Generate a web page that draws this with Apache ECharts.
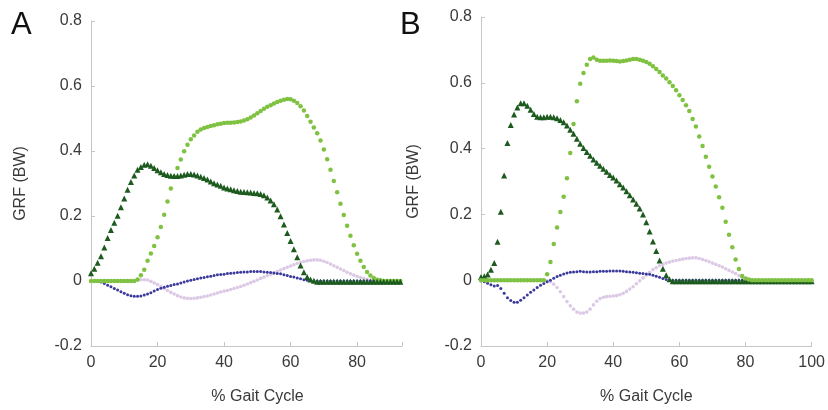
<!DOCTYPE html>
<html><head><meta charset="utf-8">
<script src="https://cdn.jsdelivr.net/npm/echarts@6/dist/echarts.min.js"></script>
<style>html,body{margin:0;padding:0;background:#fff}#c{width:828px;height:410px}</style>
</head><body><div id="c"></div>
<script>
// ---------- data ----------
const panelLabels = ['A', 'B'];
const yAxisName = 'GRF (BW)';
const xAxisName = '% Gait Cycle';
const yTickLabels = ['-0.2', '0', '0.2', '0.4', '0.6', '0.8'];
const xTickLabelsA = ['0', '20', '40', '60', '80'];
const xTickLabelsB = ['0', '20', '40', '60', '80', '100'];

const gaitA = [0,1,2,3,4,5,6,7,8,9,10,11,12,13,14,15,16,17,18,19,20,21,22,23,24,25,26,27,28,29,30,31,32,33,34,35,36,37,38,39,40,41,42,43,44,45,46,47,48,49,50,51,52,53,54,55,56,57,58,59,60,61,62,63,64,65,66,67,68,69,70,71,72,73,74,75,76,77,78,79,80,81,82,83,84,85,86,87,88,89,90,91,92,93];
const gaitB = [0,1,2,3,4,5,6,7,8,9,10,11,12,13,14,15,16,17,18,19,20,21,22,23,24,25,26,27,28,29,30,31,32,33,34,35,36,37,38,39,40,41,42,43,44,45,46,47,48,49,50,51,52,53,54,55,56,57,58,59,60,61,62,63,64,65,66,67,68,69,70,71,72,73,74,75,76,77,78,79,80,81,82,83,84,85,86,87,88,89,90,91,92,93,94,95,96,97,98,99,100];

const darkA = [0.024,0.038,0.056,0.076,0.103,0.132,0.157,0.179,0.201,0.227,
 0.254,0.281,0.305,0.325,0.342,0.351,0.358,0.359,0.355,0.348,
 0.341,0.335,0.329,0.326,0.324,0.323,0.323,0.325,0.327,0.329,
 0.329,0.328,0.325,0.321,0.317,0.312,0.306,0.301,0.297,0.293,
 0.288,0.285,0.282,0.279,0.277,0.275,0.274,0.273,0.272,0.271,
 0.27,0.268,0.264,0.257,0.248,0.236,0.22,0.199,0.174,0.148,
 0.123,0.098,0.073,0.048,0.027,0.012,0.005,0.001,-0.002,-0.002,
 -0.002,-0.002,-0.002,-0.002,-0.002,-0.002,-0.002,-0.002,-0.002,-0.002,
 -0.002,-0.002,-0.002,-0.002,-0.002,-0.002,-0.002,-0.002,-0.002,-0.002,
 -0.002,-0.002,-0.002,-0.002];
const lightA = [0,0,0,0,0,0,0,0,0,0,
 0,0,0,0,0.005,0.018,0.035,0.062,0.085,0.108,
 0.135,0.166,0.204,0.245,0.285,0.32,0.348,0.374,0.399,0.419,
 0.436,0.448,0.459,0.466,0.471,0.474,0.477,0.479,0.482,0.484,
 0.486,0.487,0.487,0.488,0.489,0.491,0.494,0.498,0.503,0.509,
 0.516,0.523,0.53,0.536,0.541,0.546,0.551,0.555,0.558,0.56,
 0.559,0.555,0.548,0.538,0.525,0.508,0.49,0.472,0.455,0.432,
 0.405,0.375,0.342,0.308,0.273,0.238,0.203,0.17,0.139,0.11,
 0.084,0.062,0.043,0.028,0.017,0.009,0.004,0.002,0,0,
 0,0,0,0];
const blueA = [0,0,-0.001,-0.003,-0.008,-0.013,-0.018,-0.023,-0.028,-0.033,
 -0.038,-0.042,-0.045,-0.047,-0.047,-0.046,-0.043,-0.04,-0.036,-0.031,
 -0.026,-0.022,-0.019,-0.016,-0.014,-0.011,-0.009,-0.006,-0.003,0,
 0.002,0.005,0.007,0.009,0.011,0.013,0.015,0.017,0.019,0.02,
 0.021,0.023,0.024,0.025,0.026,0.027,0.028,0.028,0.029,0.029,
 0.029,0.029,0.028,0.027,0.026,0.025,0.023,0.022,0.019,0.017,
 0.014,0.012,0.009,0.007,0.004,0.002,0.001,0,0,0,
 0,0,0,0,0,0,0,0,0,0,
 0,0,0,0,0,0,0,0,0,0,
 0,0,0,0];
const pinkA = [0,0,0,0,0,0,0,0,0,0,
 0,0,0,0,0.002,0.004,0.004,0.003,-0.001,-0.006,
 -0.011,-0.017,-0.023,-0.029,-0.035,-0.04,-0.045,-0.049,-0.052,-0.053,
 -0.054,-0.053,-0.052,-0.05,-0.048,-0.046,-0.043,-0.04,-0.037,-0.034,
 -0.031,-0.029,-0.026,-0.023,-0.02,-0.017,-0.013,-0.009,-0.005,-0.001,
 0.003,0.008,0.012,0.016,0.021,0.025,0.03,0.034,0.038,0.042,
 0.046,0.05,0.054,0.057,0.06,0.062,0.064,0.065,0.065,0.064,
 0.061,0.057,0.052,0.047,0.042,0.037,0.032,0.027,0.022,0.018,
 0.014,0.011,0.008,0.005,0.003,0.002,0.001,0,0,0,
 0,0,0,0];

const darkB = [0.01,0.012,0.017,0.032,0.052,0.117,0.208,0.318,0.417,0.472,
 0.504,0.525,0.538,0.538,0.53,0.518,0.505,0.497,0.495,0.495,
 0.497,0.497,0.495,0.492,0.487,0.48,0.47,0.457,0.445,0.43,
 0.415,0.402,0.39,0.378,0.367,0.357,0.348,0.339,0.33,0.32,
 0.312,0.303,0.292,0.282,0.27,0.258,0.245,0.232,0.218,0.2,
 0.176,0.148,0.118,0.089,0.06,0.035,0.015,0.003,-0.003,-0.003,
 -0.003,-0.003,-0.003,-0.003,-0.003,-0.003,-0.003,-0.003,-0.003,-0.003,
 -0.003,-0.003,-0.003,-0.003,-0.003,-0.003,-0.003,-0.003,-0.003,-0.003,
 -0.003,-0.003,-0.003,-0.003,-0.003,-0.003,-0.003,-0.003,-0.003,-0.003,
 -0.003,-0.003,-0.003,-0.003,-0.003,-0.003,-0.003,-0.003,-0.003,-0.003,
 -0.003];
const lightB = [0,0,0,0,0,0,0,0,0,0,
 0,0,0,0,0,0,0,0,0,0,
 0.018,0.055,0.11,0.16,0.207,0.254,0.31,0.387,0.475,0.544,
 0.597,0.63,0.655,0.672,0.677,0.67,0.667,0.667,0.667,0.668,
 0.667,0.666,0.665,0.666,0.668,0.67,0.672,0.672,0.67,0.667,
 0.663,0.658,0.65,0.642,0.633,0.622,0.613,0.602,0.59,0.577,
 0.562,0.548,0.532,0.514,0.49,0.467,0.437,0.408,0.375,0.345,
 0.315,0.285,0.252,0.22,0.178,0.138,0.1,0.063,0.034,0.013,
 0.005,0.002,0,0,0,0,0,0,0,0,
 0,0,0,0,0,0,0,0,0,0,
 0];
const blueB = [-0.002,-0.005,-0.009,-0.014,-0.018,-0.016,-0.025,-0.04,-0.053,-0.062,
 -0.067,-0.067,-0.061,-0.053,-0.045,-0.037,-0.03,-0.022,-0.015,-0.01,
 -0.005,0,0.006,0.011,0.015,0.019,0.022,0.024,0.025,0.026,
 0.027,0.026,0.025,0.025,0.026,0.026,0.027,0.027,0.027,0.028,
 0.028,0.028,0.028,0.027,0.026,0.025,0.024,0.023,0.021,0.02,
 0.019,0.018,0.015,0.012,0.009,0.005,0.002,0,0,0,
 0,0,0,0,0,0,0,0,0,0,
 0,0,0,0,0,0,0,0,0,0,
 0,0,0,0,0,0,0,0,0,0,
 0,0,0,0,0,0,0,0,0,0,
 0];
const pinkB = [0,0,0,0,0,0,0,0,0,0,
 0,0,0,0,0,0,0,0,0,0,
 -0.002,-0.005,-0.012,-0.022,-0.035,-0.05,-0.065,-0.078,-0.088,-0.097,
 -0.1,-0.1,-0.097,-0.088,-0.075,-0.064,-0.056,-0.052,-0.05,-0.049,
 -0.048,-0.047,-0.044,-0.04,-0.034,-0.027,-0.02,-0.011,-0.002,0.007,
 0.016,0.024,0.032,0.038,0.044,0.048,0.052,0.055,0.058,0.06,
 0.062,0.064,0.066,0.067,0.068,0.068,0.066,0.063,0.06,0.056,
 0.052,0.048,0.044,0.04,0.035,0.03,0.025,0.02,0.014,0.009,
 0.004,0.001,0,0,0,0,0,0,0,0,
 0,0,0,0,0,0,0,0,0,0,
 0];

// ---------- chart ----------
const FONT = 'Liberation Sans, Arial, sans-serif';
const TXT = '#3a3a3a';
const AX = '#c6c6c6';
const STY = {
  light: {color: '#7fc241', symbol: 'circle', size: 4.5},
  dark:  {color: '#1c5a1e', symbol: 'triangle', size: 6},
  blue:  {color: '#3a3a9c', symbol: 'circle', size: 3},
  pink:  {color: '#dcc9e6', symbol: 'circle', size: 3.6}
};
function pts(xs, ys) { return xs.map((x, i) => [x, ys[i]]); }
function ser(idx, key, xs, ys, z) {
  const s = STY[key];
  return {type: 'scatter', xAxisIndex: idx, yAxisIndex: idx, data: pts(xs, ys),
    symbol: s.symbol, symbolSize: s.size, itemStyle: {color: s.color, opacity: 1},
    z: z, silent: true, animation: false};
}
function yLab(v) {
  const s = (Math.round(v * 10) / 10).toFixed(1);
  const found = yTickLabels.find(t => Math.abs(parseFloat(t) - v) < 1e-6);
  return found !== undefined ? found : s;
}
function xLabFor(list) {
  return function (v) {
    const f = list.find(t => Math.abs(parseFloat(t) - v) < 1e-6);
    return f !== undefined ? f : '';
  };
}
function yAxisCfg(idx, gap) {
  return {type: 'value', gridIndex: idx, min: -0.2, max: 0.8, interval: 0.2,
    axisLine: {show: true, lineStyle: {color: AX, width: 1}},
    axisTick: {show: true, inside: true, length: 4, lineStyle: {color: AX}},
    splitLine: {show: false},
    axisLabel: {color: TXT, fontSize: 16, fontFamily: FONT, margin: 9, formatter: yLab},
    name: yAxisName, nameLocation: 'middle', nameGap: gap, nameRotate: 90,
    nameTextStyle: {color: TXT, fontSize: 16, fontFamily: FONT}};
}
function xAxisCfg(idx, max, labels, shift) {
  return {type: 'value', gridIndex: idx, min: 0, max: max, interval: 20,
    axisLine: {show: true, onZero: false, lineStyle: {color: AX, width: 1}},
    axisTick: {show: true, inside: true, length: 4, lineStyle: {color: AX}},
    splitLine: {show: false},
    axisLabel: {color: TXT, fontSize: 16, fontFamily: FONT, margin: 9, formatter: xLabFor(labels)},
    name: xAxisName, nameLocation: 'middle', nameGap: 43,
    nameTextStyle: {color: TXT, fontSize: 16, fontFamily: FONT, padding: [0, 0, 0, shift]}};
}

const chart = echarts.init(document.getElementById('c'), null, {renderer: 'canvas'});
chart.setOption({
  backgroundColor: '#fff',
  animation: false,
  grid: [
    {left: 91, top: 21, width: 311, height: 331, containLabel: false},
    {left: 481, top: 17, width: 333, height: 333, containLabel: false}
  ],
  xAxis: [xAxisCfg(0, 93.5, xTickLabelsA, 22), xAxisCfg(1, 100, xTickLabelsB, 0)],
  yAxis: [yAxisCfg(0, 62), yAxisCfg(1, 59)],
  graphic: [
    {type: 'text', left: 11, top: 10, style: {text: panelLabels[0], fill: '#111', font: '31px ' + FONT}},
    {type: 'text', left: 400, top: 10, style: {text: panelLabels[1], fill: '#111', font: '31px ' + FONT}}
  ],
  series: [
    ser(0, 'pink', gaitA, pinkA, 2),
    ser(0, 'blue', gaitA, blueA, 3),
    ser(0, 'light', gaitA, lightA, 4),
    ser(0, 'dark', gaitA, darkA, 5),
    ser(1, 'pink', gaitB, pinkB, 2),
    ser(1, 'blue', gaitB, blueB, 3),
    ser(1, 'dark', gaitB, darkB, 4),
    ser(1, 'light', gaitB, lightB, 5)
  ]
});
</script></body></html>
